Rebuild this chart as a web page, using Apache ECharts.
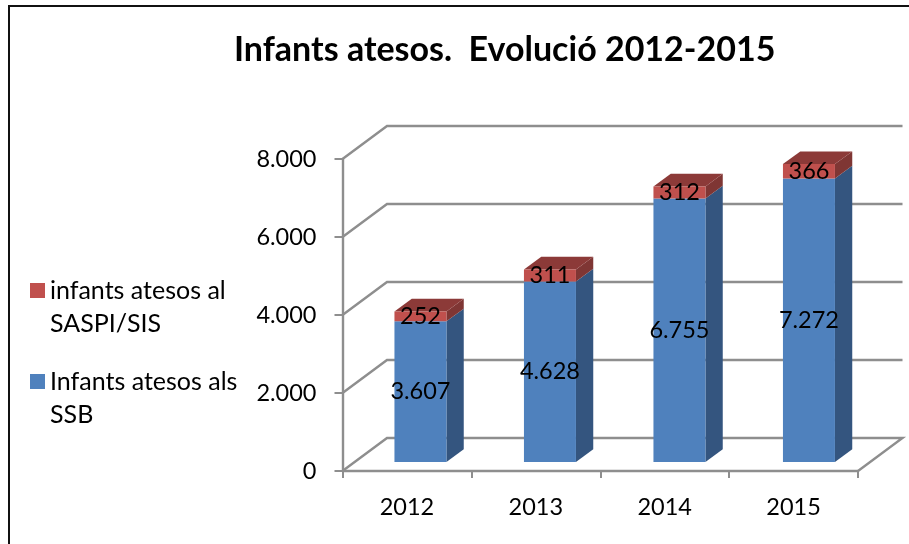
<!DOCTYPE html>
<html><head><meta charset="utf-8">
<style>html,body{margin:0;padding:0;background:#fff}#c{width:909px;height:544px}</style>
<script src="https://cdn.jsdelivr.net/npm/echarts@6/dist/echarts.min.js"></script>
</head><body><div id="c"></div>
<script>
const categories = ['2012','2013','2014','2015'];
const ssbValues = [3607,4628,6755,7272];
const saspiValues = [252,311,312,366];
const yTicks = [0,2000,4000,6000,8000];
const ssbName = 'Infants atesos als SSB';
const saspiName = 'infants atesos al SASPI/SIS';
const legendLines = {
  [ssbName]: ' \nInfants atesos als\nSSB',
  [saspiName]: ' \ninfants atesos al\nSASPI/SIS'
};

const FONT = 'Lato, Carlito, sans-serif';
const FS = 23.5;
const GRID = {left:342.5, top:159, width:515.5, height:312};
const WALL = {dx:44.5, dy:-33};
const SHIFT = {dx:13.2, dy:-9};
const BAR_W = 52;
const BAR_D = {dx:17.3, dy:-12.7};
const GRAY = '#8e8e8e';

const fmt = v => String(v).replace(/\B(?=(\d{3})+$)/g,'.');

function wallItem(params, api){
  const v = api.value(0);
  const cs = params.coordSys;
  const y = api.coord([0, v])[1];
  const x0 = cs.x, x1 = cs.x + cs.width;
  const pts = [[x0,y],[x0+WALL.dx,y+WALL.dy],[x1+WALL.dx,y+WALL.dy]];
  if (v === 0) pts.push([x1,y]);
  return {type:'polyline', shape:{points:pts}, style:{fill:null, stroke:GRAY, lineWidth:2.4}, silent:true};
}
function sideItem(sideColor, topColor){
  return function(params, api){
    const c = api.value(0), lo = api.value(1), hi = api.value(2);
    const pl = api.coord([c, lo]), ph = api.coord([c, hi]);
    const xr = pl[0] + BAR_W/2, xl = pl[0] - BAR_W/2;
    const kids = [{type:'polygon', shape:{points:[
      [xr,pl[1]],[xr+BAR_D.dx,pl[1]+BAR_D.dy],[xr+BAR_D.dx,ph[1]+BAR_D.dy],[xr,ph[1]]
    ]}, style:{fill:sideColor}, silent:true}];
    if (topColor) kids.push({type:'polygon', shape:{points:[
      [xl,ph[1]],[xr,ph[1]],[xr+BAR_D.dx,ph[1]+BAR_D.dy],[xl+BAR_D.dx,ph[1]+BAR_D.dy]
    ]}, style:{fill:topColor}, silent:true});
    return {type:'group', children:kids};
  };
}
const labelStyle = {show:true, position:'inside', color:'#000', fontFamily:FONT, fontSize:FS,
  formatter:p=>fmt(p.value)};
const option = {
  animation:false,
  backgroundColor:'#fff',
  textStyle:{fontFamily:FONT},
  title:{text:'Infants atesos.  Evolució 2012-2015', left:229, top:28,
    textStyle:{fontFamily:FONT, fontSize:34, fontWeight:'bold', color:'#000'}},
  legend:{orient:'vertical', left:30, top:241, padding:0, itemGap:-8, itemWidth:15, itemHeight:15, icon:'rect',
    selectedMode:false, data:[saspiName, ssbName], formatter:n=>legendLines[n],
    textStyle:{fontFamily:FONT, fontSize:25, lineHeight:33, color:'#000'}},
  grid:[
    Object.assign({}, GRID),
    {left:GRID.left+SHIFT.dx, top:GRID.top+SHIFT.dy, width:GRID.width+2.5, height:GRID.height}
  ],
  xAxis:[
    {type:'category', gridIndex:0, data:categories, boundaryGap:true,
     axisLine:{lineStyle:{color:GRAY,width:2.4}},
     axisTick:{show:true, length:7, alignWithLabel:false, lineStyle:{color:GRAY,width:2}},
     axisLabel:{margin:24, color:'#000', fontFamily:FONT, fontSize:FS}},
    {type:'category', gridIndex:1, data:categories, show:false}
  ],
  yAxis:[
    {type:'value', gridIndex:0, min:0, max:8000, interval:2000,
     axisLine:{show:true, lineStyle:{color:GRAY,width:2.4}},
     axisTick:{show:true, length:8, lineStyle:{color:GRAY,width:2}},
     splitLine:{show:false},
     axisLabel:{margin:26, padding:[5,0,0,0], color:'#000', fontFamily:FONT, fontSize:FS, formatter:fmt}},
    {type:'value', gridIndex:1, min:0, max:8000, interval:2000, show:false, splitLine:{show:false}}
  ],
  graphic:[{type:'polyline', silent:true, z:-1,
    shape:{points:[[9,544],[9,6],[909,6]]}, style:{fill:null, stroke:'#111', lineWidth:2}}],
  series:[
    {type:'custom', name:'walls', xAxisIndex:0, yAxisIndex:0, z:1, silent:true,
     encode:{y:0}, data:yTicks.map(v=>[v]), renderItem:wallItem},
    {type:'custom', name:'ssb-depth', xAxisIndex:1, yAxisIndex:1, z:2, silent:true,
     data:ssbValues.map((v,i)=>[i,0,v]), renderItem:sideItem('#34557f'),
     encode:{x:0,y:[1,2]}},
    {type:'custom', name:'saspi-depth', xAxisIndex:1, yAxisIndex:1, z:2, silent:true,
     data:saspiValues.map((v,i)=>[i,ssbValues[i],ssbValues[i]+v]), renderItem:sideItem('#7f3634','#8c3a38'),
     encode:{x:0,y:[1,2]}},
    {type:'bar', name:ssbName, stack:'t', xAxisIndex:1, yAxisIndex:1, z:3, barWidth:BAR_W,
     itemStyle:{color:'#4f81bd'}, label:labelStyle, data:ssbValues},
    {type:'bar', name:saspiName, stack:'t', xAxisIndex:1, yAxisIndex:1, z:3, barWidth:BAR_W,
     itemStyle:{color:'#c0504d'}, label:labelStyle, data:saspiValues}
  ]
};
echarts.init(document.getElementById('c'),null,{renderer:'canvas'}).setOption(option);
</script></body></html>
